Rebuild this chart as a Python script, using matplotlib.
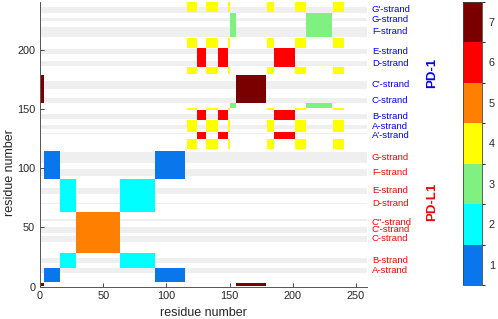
import numpy as np
import matplotlib
matplotlib.use("Agg")
import matplotlib.pyplot as plt
from matplotlib.colors import ListedColormap, BoundaryNorm

plt.rcParams['font.family'] = ['Liberation Sans', 'DejaVu Sans']

# contact segments (residue ranges) and the group each belongs to
seg_start = [0.5, 3.5, 15.5, 28.3, 63, 91, 116, 124.5, 131, 140.5, 149, 150.7, 155.4, 180, 185.5, 201.8, 210.6, 232]
seg_end = [3, 15.5, 28.3, 63, 91, 115, 124.5, 131, 140.5, 149, 150.7, 155.4, 179, 185.5, 201.5, 210.3, 231.2, 240.2]
seg_group = [7, 1, 2, 5, 2, 1, 4, 6, 4, 6, 4, 3, 7, 4, 6, 4, 3, 4]

# strand bands (residue ranges) on the y axis
pd1_strands = ["G'-strand", "G-strand", "F-strand", "E-strand", "D-strand",
               "C'-strand", "C-strand", "B-strand", "A-strand", "A'-strand"]
pd1_lo = [231.3, 224.5, 211, 196.7, 186.5, 167.1, 155.3, 141.7, 133.3, 128.9]
pd1_hi = [236.4, 227.1, 219.5, 200.9, 190.8, 173.9, 159.5, 146, 136.7, 130.1]

pdl1_strands = ["G-strand", "F-strand", "E-strand", "D-strand", 'C"-strand',
                "C'-strand", "C-strand", "B-strand", "A-strand"]
pdl1_lo = [104.6, 93.6, 78.4, 69.5, 55.6, 45.4, 37.8, 20.1, 11.6]
pdl1_hi = [113.9, 99.5, 83.4, 70.8, 57.2, 50.5, 42.9, 24.3, 15.8]

level_colors = ['#0a76ec', '#00ffff', '#80f080', '#ffff00', '#ff8000', '#ff0000', '#7a0000']

# build the block matrix on the segment edges
edges = np.unique(np.array(seg_start + seg_end, dtype=float))
mids = (edges[:-1] + edges[1:]) / 2
grp = np.full(len(mids), np.nan)
for s, e, g in zip(seg_start, seg_end, seg_group):
    grp[(mids > s) & (mids < e)] = g
Z = np.where(grp[:, None] == grp[None, :], grp[:, None], np.nan)
Z = np.ma.masked_invalid(Z)

fig = plt.figure(figsize=(4.98, 3.19), dpi=100)
ax = fig.add_axes([0.0803, 0.1016, 0.656, 0.893])

for lo, hi in zip(pd1_lo + pdl1_lo, pd1_hi + pdl1_hi):
    ax.axhspan(lo, hi, color='#efefef', lw=0, zorder=0)

cmap = ListedColormap(level_colors)
norm = BoundaryNorm(np.arange(0.5, 8.5, 1), cmap.N)
mesh = ax.pcolormesh(edges, edges, Z, cmap=cmap, norm=norm, edgecolors='none',
                     antialiased=False, zorder=1)

ax.set_xlim(0, 258.5)
ax.set_ylim(0, 240.8)
ax.set_xticks(range(0, 251, 50))
ax.set_yticks(range(0, 201, 50))
ax.tick_params(direction='in', length=3, width=0.6, labelsize=7.8, colors='#262626')
for sp in ['top', 'right']:
    ax.spines[sp].set_visible(False)
for sp in ['left', 'bottom']:
    ax.spines[sp].set_color('#555555')
    ax.spines[sp].set_linewidth(0.7)

ax.set_xlabel('residue number', fontsize=9, color='#262626', labelpad=4)
ax.set_ylabel('residue number', fontsize=9, color='#262626')
ax.yaxis.set_label_coords(-0.074, 0.40)

# strand labels on the right
tr = ax.get_yaxis_transform()
nudge = {"A'-strand": -1.8, 'C"-strand': -2.3}
for names, los, his, col in [(pd1_strands, pd1_lo, pd1_hi, '#0000ff'),
                             (pdl1_strands, pdl1_lo, pdl1_hi, '#ff0000')]:
    for n, lo, hi in zip(names, los, his):
        y = (lo + hi) / 2 + (nudge.get(n, 0) if col == '#0000ff' or n == 'C"-strand' else 0)
        ax.text(1.016, y, n, transform=tr, fontsize=6.8, color=col, va='center', ha='left')

ax.text(1.2, 181, 'PD-1', transform=tr, fontsize=9.5, fontweight='bold', color='#0000ff',
        rotation=90, va='center', ha='center')
ax.text(1.2, 72, 'PD-L1', transform=tr, fontsize=9.5, fontweight='bold', color='#ff0000',
        rotation=90, va='center', ha='center')

cax = fig.add_axes([0.9303, 0.1066, 0.037, 0.888])
cb = fig.colorbar(mesh, cax=cax, ticks=range(1, 8))
cb.ax.tick_params(length=0, labelsize=7.8, colors='#262626', pad=5)
cb.outline.set_edgecolor('#444444')
cb.outline.set_linewidth(0.6)

fig.savefig('out.png', dpi=100)
